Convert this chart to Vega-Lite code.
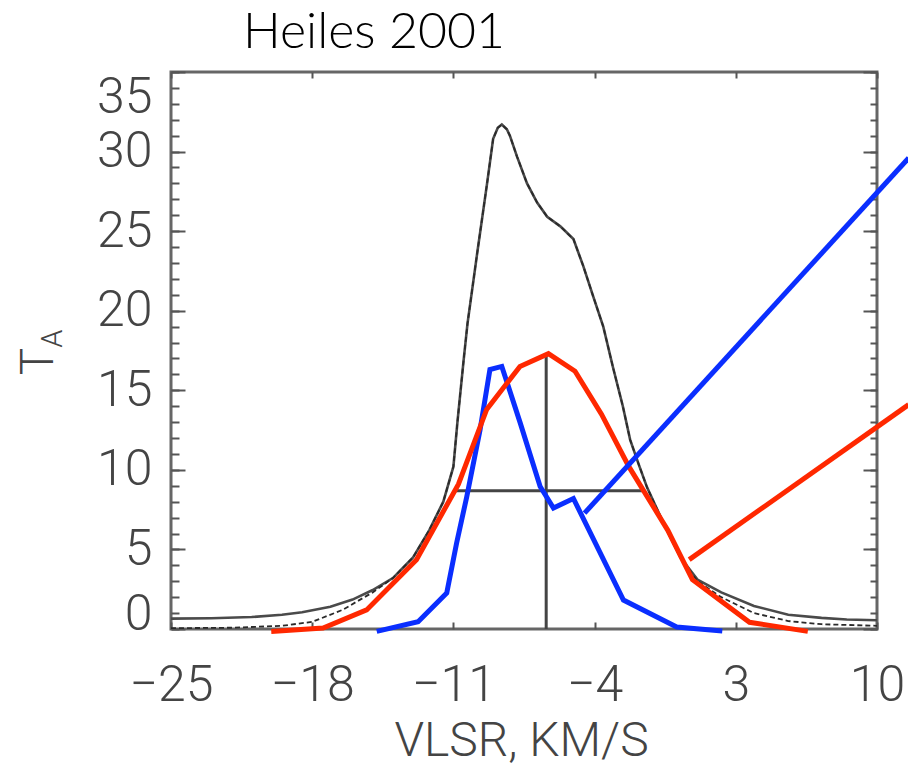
{
"$schema": "https://vega.github.io/schema/vega-lite/v6.json",
"width": 706, "height": 557,
"autosize": {"type": "none"},
"padding": {"left": 171, "top": 72, "right": 31, "bottom": 137},
"background": "white",
"title": {"text": "Heiles 2001", "anchor": "start", "frame": "group", "dx": 72, "offset": -27, "baseline": "alphabetic", "font": "Lato", "fontSize": 50, "fontWeight": 300, "color": "#000000"},
"config": {
  "view": {"stroke": "#666666", "strokeWidth": 3},
  "axis": {"grid": false, "domain": false, "tickColor": "#555555", "tickWidth": 2, "labelFont": "Roboto", "labelFontWeight": 300, "labelColor": "#444444", "labelFontSize": 50, "labelOverlap": false, "titleFont": "Roboto", "titleColor": "#444444", "titleFontWeight": 300}
},
"datasets": {
  "spectrum": [
    {"v": -25, "TA": 0.65, "curve": "observed"}, {"v": -23, "TA": 0.68, "curve": "observed"}, {"v": -21, "TA": 0.75, "curve": "observed"}, {"v": -19.5, "TA": 0.9, "curve": "observed"}, {"v": -18.5, "TA": 1.05, "curve": "observed"}, {"v": -17.1, "TA": 1.4, "curve": "observed"}, {"v": -16, "TA": 1.85, "curve": "observed"}, {"v": -15, "TA": 2.45, "curve": "observed"}, {"v": -14, "TA": 3.2, "curve": "observed"}, {"v": -13, "TA": 4.5, "curve": "observed"}, {"v": -12.2, "TA": 6.2, "curve": "observed"}, {"v": -11.5, "TA": 8.0, "curve": "observed"}, {"v": -11.0, "TA": 10.2, "curve": "observed"}, {"v": -10.8, "TA": 13.0, "curve": "observed"}, {"v": -10.5, "TA": 16.8, "curve": "observed"}, {"v": -10.3, "TA": 19.2, "curve": "observed"}, {"v": -9.8, "TA": 23.8, "curve": "observed"}, {"v": -9.33, "TA": 28.0, "curve": "observed"}, {"v": -9.03, "TA": 30.8, "curve": "observed"}, {"v": -8.8, "TA": 31.5, "curve": "observed"}, {"v": -8.6, "TA": 31.7, "curve": "observed"}, {"v": -8.35, "TA": 31.4, "curve": "observed"}, {"v": -8.2, "TA": 31.0, "curve": "observed"}, {"v": -7.85, "TA": 29.7, "curve": "observed"}, {"v": -7.35, "TA": 28.0, "curve": "observed"}, {"v": -6.85, "TA": 26.8, "curve": "observed"}, {"v": -6.35, "TA": 25.9, "curve": "observed"}, {"v": -5.7, "TA": 25.3, "curve": "observed"}, {"v": -5.05, "TA": 24.5, "curve": "observed"}, {"v": -4.56, "TA": 22.8, "curve": "observed"}, {"v": -4.07, "TA": 20.9, "curve": "observed"}, {"v": -3.57, "TA": 19.0, "curve": "observed"}, {"v": -3.08, "TA": 16.4, "curve": "observed"}, {"v": -2.6, "TA": 14.0, "curve": "observed"}, {"v": -2.24, "TA": 11.9, "curve": "observed"}, {"v": -1.8, "TA": 10.3, "curve": "observed"}, {"v": -1.4, "TA": 8.9, "curve": "observed"}, {"v": -0.6, "TA": 6.7, "curve": "observed"}, {"v": 0.25, "TA": 4.5, "curve": "observed"}, {"v": 1.1, "TA": 3.1, "curve": "observed"}, {"v": 2.28, "TA": 2.3, "curve": "observed"}, {"v": 3.9, "TA": 1.45, "curve": "observed"}, {"v": 5.6, "TA": 0.9, "curve": "observed"}, {"v": 7.25, "TA": 0.7, "curve": "observed"}, {"v": 8.5, "TA": 0.6, "curve": "observed"}, {"v": 10, "TA": 0.55, "curve": "observed"},
    {"v": -25, "TA": 0.05, "curve": "fit"}, {"v": -22, "TA": 0.08, "curve": "fit"}, {"v": -19.5, "TA": 0.2, "curve": "fit"}, {"v": -18, "TA": 0.45, "curve": "fit"}, {"v": -16.5, "TA": 1.2, "curve": "fit"}, {"v": -15, "TA": 2.3, "curve": "fit"}, {"v": -14, "TA": 3.2, "curve": "fit"}, {"v": -13, "TA": 4.5, "curve": "fit"}, {"v": -12.2, "TA": 6.2, "curve": "fit"}, {"v": -11.5, "TA": 8.0, "curve": "fit"}, {"v": -11.0, "TA": 10.2, "curve": "fit"}, {"v": -10.8, "TA": 13.0, "curve": "fit"}, {"v": -10.5, "TA": 16.8, "curve": "fit"}, {"v": -10.3, "TA": 19.2, "curve": "fit"}, {"v": -9.8, "TA": 23.8, "curve": "fit"}, {"v": -9.33, "TA": 28.0, "curve": "fit"}, {"v": -9.03, "TA": 30.8, "curve": "fit"}, {"v": -8.8, "TA": 31.5, "curve": "fit"}, {"v": -8.6, "TA": 31.7, "curve": "fit"}, {"v": -8.35, "TA": 31.4, "curve": "fit"}, {"v": -8.2, "TA": 31.0, "curve": "fit"}, {"v": -7.85, "TA": 29.7, "curve": "fit"}, {"v": -7.35, "TA": 28.0, "curve": "fit"}, {"v": -6.85, "TA": 26.8, "curve": "fit"}, {"v": -6.35, "TA": 25.9, "curve": "fit"}, {"v": -5.7, "TA": 25.3, "curve": "fit"}, {"v": -5.05, "TA": 24.5, "curve": "fit"}, {"v": -4.56, "TA": 22.8, "curve": "fit"}, {"v": -4.07, "TA": 20.9, "curve": "fit"}, {"v": -3.57, "TA": 19.0, "curve": "fit"}, {"v": -3.08, "TA": 16.4, "curve": "fit"}, {"v": -2.6, "TA": 14.0, "curve": "fit"}, {"v": -2.24, "TA": 11.9, "curve": "fit"}, {"v": -1.8, "TA": 10.3, "curve": "fit"}, {"v": -1.4, "TA": 8.9, "curve": "fit"}, {"v": -0.6, "TA": 6.7, "curve": "fit"}, {"v": 0.25, "TA": 4.5, "curve": "fit"}, {"v": 1.1, "TA": 3.0, "curve": "fit"}, {"v": 2.28, "TA": 2.0, "curve": "fit"}, {"v": 3.9, "TA": 1.0, "curve": "fit"}, {"v": 5.6, "TA": 0.5, "curve": "fit"}, {"v": 7.25, "TA": 0.3, "curve": "fit"}, {"v": 10, "TA": 0.2, "curve": "fit"}
  ],
  "components": [
    {"v": -14.8, "TA": -0.15, "comp": "CNM"}, {"v": -12.75, "TA": 0.46, "comp": "CNM"}, {"v": -11.33, "TA": 2.26, "comp": "CNM"}, {"v": -10.84, "TA": 5.4, "comp": "CNM"}, {"v": -10.34, "TA": 8.3, "comp": "CNM"}, {"v": -9.68, "TA": 12.5, "comp": "CNM"}, {"v": -9.19, "TA": 16.3, "comp": "CNM"}, {"v": -8.6, "TA": 16.5, "comp": "CNM"}, {"v": -7.7, "TA": 13.0, "comp": "CNM"}, {"v": -6.7, "TA": 8.95, "comp": "CNM"}, {"v": -6.04, "TA": 7.6, "comp": "CNM"}, {"v": -5.05, "TA": 8.2, "comp": "CNM"}, {"v": -2.57, "TA": 1.82, "comp": "CNM"}, {"v": 0.07, "TA": 0.13, "comp": "CNM"}, {"v": 2.33, "TA": -0.13, "comp": "CNM"},
    {"v": -20.03, "TA": -0.15, "comp": "WNM"}, {"v": -17.46, "TA": 0.06, "comp": "WNM"}, {"v": -15.3, "TA": 1.2, "comp": "WNM"}, {"v": -12.83, "TA": 4.35, "comp": "WNM"}, {"v": -10.75, "TA": 9.1, "comp": "WNM"}, {"v": -9.35, "TA": 13.8, "comp": "WNM"}, {"v": -7.7, "TA": 16.5, "comp": "WNM"}, {"v": -6.29, "TA": 17.3, "comp": "WNM"}, {"v": -4.97, "TA": 16.2, "comp": "WNM"}, {"v": -3.66, "TA": 13.5, "comp": "WNM"}, {"v": -2.3, "TA": 10.2, "comp": "WNM"}, {"v": -0.37, "TA": 6.2, "comp": "WNM"}, {"v": 0.85, "TA": 3.1, "comp": "WNM"}, {"v": 3.68, "TA": 0.42, "comp": "WNM"}, {"v": 6.57, "TA": -0.15, "comp": "WNM"}
  ],
  "pointers": [
    {"v": -4.5, "TA": 7.28, "comp": "CNM"}, {"v": 11.57, "TA": 29.6, "comp": "CNM"},
    {"v": 0.69, "TA": 4.36, "comp": "WNM"}, {"v": 11.57, "TA": 14.1, "comp": "WNM"}
  ],
  "halfmax": [
    {"v": -6.4, "v2": -6.4, "TA": 0, "TA2": 17.2},
    {"v": -10.92, "v2": -1.65, "TA": 8.68, "TA2": 8.68}
  ],
  "subscript": [
    {"v": -30.39, "TA": 18.24, "label": "A"}
  ]
},
"layer": [
  {
    "data": {"name": "spectrum"},
    "transform": [{"filter": "datum.curve == 'observed'"}],
    "mark": {"type": "line", "color": "#4a4a4a", "strokeWidth": 2.6},
    "encoding": {
      "x": {"field": "v", "type": "quantitative", "scale": {"domain": [-25, 10], "nice": false, "zero": false},
        "axis": {"orient": "bottom", "values": [-25, -18, -11, -4, 3, 10], "ticks": false, "labelPadding": 31, "labelFlush": false, "title": "VLSR, KM/S", "titleFontSize": 48, "titleX": 350, "titleY": 126, "titleBaseline": "alphabetic", "titleAlign": "center"}},
      "y": {"field": "TA", "type": "quantitative", "scale": {"domain": [0, 35], "nice": false, "zero": false},
        "axis": {"orient": "left", "values": [0, 5, 10, 15, 20, 25, 30, 35], "ticks": false, "labelPadding": 19, "labelFlush": false,
          "labelBaseline": {"condition": [{"test": "datum.value == 0", "value": "alphabetic"}, {"test": "datum.value == 35", "value": "top"}], "value": "middle"},
          "title": "T", "titleAngle": 270, "titleFontSize": 46, "titleX": -119, "titleY": 289, "titleBaseline": "alphabetic", "titleAlign": "center"}}
    }
  },
  {
    "data": {"name": "spectrum"},
    "transform": [{"filter": "datum.curve == 'fit'"}],
    "mark": {"type": "line", "color": "#2a2a2a", "strokeWidth": 1.8, "strokeDash": [5, 3]},
    "encoding": {
      "x": {"field": "v", "type": "quantitative", "axis": {"orient": "bottom", "values": [-25, -18, -11, -4, 3, 10], "labels": false, "tickSize": 7, "offset": -7, "title": null}},
      "y": {"field": "TA", "type": "quantitative", "axis": {"orient": "left", "values": [0, 5, 10, 15, 20, 25, 30, 35], "labels": false, "tickSize": 14, "offset": -14, "title": null}}
    }
  },
  {
    "data": {"name": "halfmax"},
    "mark": {"type": "rule", "color": "#444444", "strokeWidth": 3},
    "encoding": {
      "x": {"field": "v", "type": "quantitative", "axis": {"orient": "top", "values": [-25, -18, -11, -4, 3, 10], "labels": false, "tickSize": 6, "offset": -6, "title": null}},
      "x2": {"field": "v2"},
      "y": {"field": "TA", "type": "quantitative", "axis": {"orient": "left", "values": [0,1,2,3,4,5,6,7,8,9,10,11,12,13,14,15,16,17,18,19,20,21,22,23,24,25,26,27,28,29,30,31,32,33,34,35], "labels": false, "tickSize": 8, "offset": -8, "title": null}},
      "y2": {"field": "TA2"}
    }
  },
  {
    "data": {"name": "components"},
    "mark": {"type": "line", "strokeWidth": 5},
    "encoding": {
      "x": {"field": "v", "type": "quantitative", "axis": null},
      "y": {"field": "TA", "type": "quantitative", "axis": {"orient": "right", "values": [0, 5, 10, 15, 20, 25, 30, 35], "labels": false, "tickSize": 14, "offset": -14, "title": null}},
      "color": {"field": "comp", "type": "nominal", "scale": {"domain": ["CNM", "WNM"], "range": ["#0a2eff", "#ff2800"]}, "legend": null}
    }
  },
  {
    "data": {"name": "pointers"},
    "mark": {"type": "line", "strokeWidth": 5},
    "encoding": {
      "x": {"field": "v", "type": "quantitative", "axis": null},
      "y": {"field": "TA", "type": "quantitative", "axis": {"orient": "right", "values": [0,1,2,3,4,5,6,7,8,9,10,11,12,13,14,15,16,17,18,19,20,21,22,23,24,25,26,27,28,29,30,31,32,33,34,35], "labels": false, "tickSize": 7, "offset": -7, "title": null}},
      "color": {"field": "comp", "type": "nominal", "legend": null}
    }
  },
  {
    "data": {"name": "subscript"},
    "mark": {"type": "text", "angle": 270, "baseline": "alphabetic", "align": "center", "font": "Roboto", "fontWeight": 300, "fontSize": 29, "color": "#444444"},
    "encoding": {
      "x": {"field": "v", "type": "quantitative", "axis": null},
      "y": {"field": "TA", "type": "quantitative", "axis": null},
      "text": {"field": "label"}
    }
  }
],
"resolve": {"axis": {"x": "independent", "y": "independent"}}
}
